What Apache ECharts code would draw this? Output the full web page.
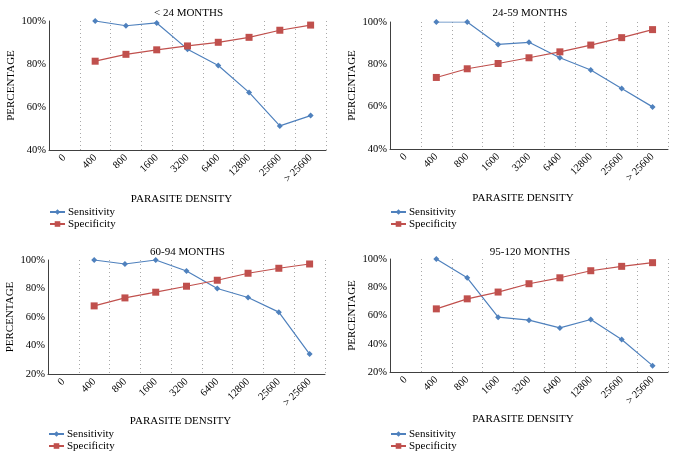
<!DOCTYPE html>
<html><head><meta charset="utf-8">
<script src="https://cdn.jsdelivr.net/npm/echarts@6/dist/echarts.min.js"></script>
<style>html,body{margin:0;padding:0;background:#fff}#c{width:675px;height:459px}</style>
</head><body><div id="c"></div>
<script>
var categories = ['0','400','800','1600','3200','6400','12800','25600','> 25600'];
var panelTitles = ['< 24 MONTHS','24-59 MONTHS','60-94 MONTHS','95-120 MONTHS'];
var sens1 = [null,100,97.8,99.1,86.9,79.3,66.8,51.2,56.0];
var spec1 = [null,81.3,84.5,86.6,88.4,90.1,92.4,95.7,98.1];
var sens2 = [null,100,100,89.4,90.4,83.1,77.3,68.6,59.9];
var spec2 = [null,73.8,77.9,80.4,83.1,85.9,89.1,92.6,96.4];
var sens3 = [null,100,97.2,100,92.3,80.0,73.7,63.4,34.0];
var spec3 = [null,67.8,73.4,77.4,81.6,85.8,90.7,94.2,97.2];
var sens4 = [null,100,86.7,58.8,56.7,51.2,57.2,43.0,24.5];
var spec4 = [null,64.7,71.8,76.6,82.5,86.7,91.7,94.8,97.4];
var yMins = [40,40,20,20];

var sensAll=[sens1,sens2,sens3,sens4], specAll=[spec1,spec2,spec3,spec4];
var FONT = 'Liberation Serif';
var grids = [
  {left:49,top:21,width:277,height:129},
  {left:390,top:22,width:278,height:127},
  {left:48,top:260,width:277,height:114},
  {left:390,top:259,width:278,height:113}
];
var titleTops=[3,3,242,242];
var legendTops=[206,206,428,428];
var option={animation:false,backgroundColor:'#fff',title:[],legend:[],grid:grids,xAxis:[],yAxis:[],series:[]};
for(var i=0;i<4;i++){
  var g=grids[i];
  option.title.push({text:panelTitles[i],left:g.left+g.width/2-4,top:titleTops[i],textAlign:'center',
    textStyle:{fontFamily:FONT,fontSize:11,fontWeight:'normal',color:'#000'}});
  option.legend.push({orient:'vertical',left:g.left,top:legendTops[i],padding:0,itemGap:0,itemWidth:15,itemHeight:7,
    data:['Sensitivity','Specificity'],textStyle:{fontFamily:FONT,fontSize:11,color:'#000',padding:[0,0,0,-2],lineHeight:12},selectedMode:false});
  option.xAxis.push({type:'category',gridIndex:i,data:categories,boundaryGap:true,
    name:'PARASITE DENSITY',nameLocation:'middle',nameGap:i<2?44:42,
    nameTextStyle:{fontFamily:FONT,fontSize:11,color:'#000',padding:[0,12,0,0]},
    axisLine:{lineStyle:{color:'#404040',width:1}},axisTick:{show:false},
    axisLabel:{rotate:45,fontFamily:FONT,fontSize:10.5,color:'#000',margin:6,interval:0},
    splitLine:{show:true,interval:0,lineStyle:{color:'#a8a8a8',type:[1,3],width:1}}});
  option.yAxis.push({type:'value',gridIndex:i,min:yMins[i],max:100,interval:20,
    name:'PERCENTAGE',nameLocation:'middle',nameGap:32,
    nameTextStyle:{fontFamily:FONT,fontSize:11,color:'#000'},
    axisLine:{show:true,lineStyle:{color:'#404040',width:1}},axisTick:{show:false},
    axisLabel:{formatter:'{value}%',fontFamily:FONT,fontSize:10.5,color:'#000',margin:3},
    splitLine:{show:false}});
  option.series.push({name:'Sensitivity',type:'line',xAxisIndex:i,yAxisIndex:i,data:sensAll[i],
    symbol:'diamond',symbolSize:6,lineStyle:{color:'#4F81BD',width:1.2},itemStyle:{color:'#4F81BD'},connectNulls:false});
  option.series.push({name:'Specificity',type:'line',xAxisIndex:i,yAxisIndex:i,data:specAll[i],
    symbol:'rect',symbolSize:7,lineStyle:{color:'#C0504D',width:1.2},itemStyle:{color:'#C0504D'},connectNulls:false});
}
echarts.init(document.getElementById('c')).setOption(option);
</script></body></html>
